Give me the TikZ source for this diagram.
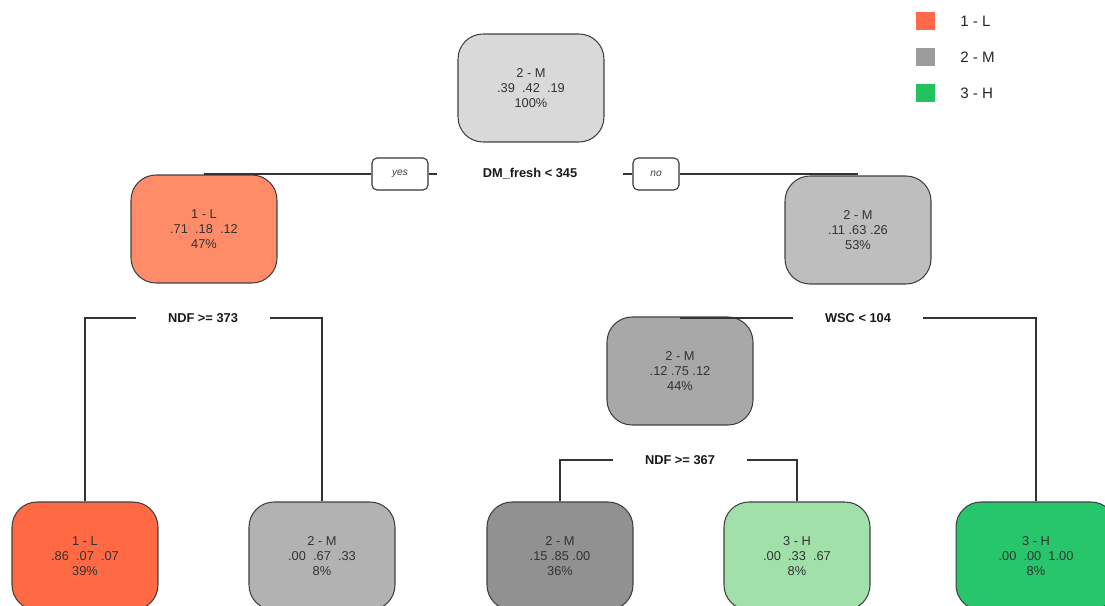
\documentclass[tikz,border=0pt]{standalone}
\usepackage{fontspec}
\setmainfont{Liberation Sans}
\begin{document}
\begin{tikzpicture}[x=0.02cm,y=-0.02cm,
  tnode/.style={draw=black!75, line width=0.6pt, rounded corners=0.5cm,
    minimum width=2.92cm, minimum height=2.16cm, align=center, inner sep=0pt,
    text=black!80, font=\fontsize{7.3}{8.6}\selectfont},
  splitlab/.style={font=\bfseries\fontsize{7.3}{8.6}\selectfont, text=black!90, inner sep=0pt, minimum height=0.4cm},
  yn/.style={draw=black!80, line width=0.6pt, rounded corners=0.1cm, minimum height=0.64cm,
    font=\itshape\fontsize{5.8}{7}\selectfont, text=black!75, inner sep=0pt},
  conn/.style={draw=black!80, line width=0.6pt},
  legsq/.style={minimum size=0.38cm, inner sep=0pt},
  legtxt/.style={font=\fontsize{8.6}{10}\selectfont, text=black!85, anchor=west, inner sep=0pt}
]
\useasboundingbox (0,0) rectangle (1105,605);
\clip (0,0) rectangle (1105,605);
\definecolor{cRoot}{HTML}{D9D9D9}
\definecolor{cL}{HTML}{FF8C69}
\definecolor{cR}{HTML}{BEBEBE}
\definecolor{cM12}{HTML}{A8A8A8}
\definecolor{cLeafA}{HTML}{FF6A45}
\definecolor{cLeafB}{HTML}{B2B2B2}
\definecolor{cLeafC}{HTML}{919191}
\definecolor{cLeafD}{HTML}{A1E0A9}
\definecolor{cLeafE}{HTML}{27C56C}
\definecolor{legL}{HTML}{FF6849}
\definecolor{legM}{HTML}{9C9C9C}
\definecolor{legH}{HTML}{22C25E}

% nodes
\node[tnode, fill=cRoot] (root) at (531,88) {2 - M\\.39\ \ .42\ \ .19\\100\%};
\node[tnode, fill=cL] (nL) at (204,229) {1 - L\\.71\ \ .18\ \ .12\\47\%};
\node[tnode, fill=cR] (nR) at (858,230) {2 - M\\.11\ .63\ .26\\53\%};
\node[tnode, fill=cM12] (nM) at (680,371) {2 - M\\.12\ .75\ .12\\44\%};
\node[tnode, fill=cLeafA] (lA) at (85,556) {1 - L\\.86\ \ .07\ \ .07\\39\%};
\node[tnode, fill=cLeafB] (lB) at (322,556) {2 - M\\.00\ \ .67\ \ .33\\8\%};
\node[tnode, fill=cLeafC] (lC) at (560,556) {2 - M\\.15\ .85\ .00\\36\%};
\node[tnode, fill=cLeafD] (lD) at (797,556) {3 - H\\.00\ \ .33\ \ .67\\8\%};
\node[tnode, fill=cLeafE, minimum width=3.2cm] (lE) at (1036,556) {3 - H\\.00\ \ .00\ \ 1.00\\8\%};

% split labels
\node[splitlab, minimum width=3.7cm] (s1) at (530,174) {DM\_fresh < 345};
\node[splitlab, minimum width=2.66cm] (s2) at (203,318) {NDF >= 373};
\node[splitlab, minimum width=2.6cm] (s3) at (858,318) {WSC < 104};
\node[splitlab, minimum width=2.68cm] (s4) at (680,460) {NDF >= 367};

% yes / no
\node[yn, minimum width=1.12cm] (yes) at (400,174) {yes};
\node[yn, minimum width=0.92cm] (no) at (656,174) {no};

% connectors
\draw[conn] (s1.west) -- (yes.east);
\draw[conn] (yes.west) -- (yes.west -| nL.north);
\draw[conn] (s1.east) -- (no.west);
\draw[conn] (no.east) -- (no.east -| nR.north);
\draw[conn] (s2.west) -| (lA.north);
\draw[conn] (s2.east) -| (lB.north);
\draw[conn] (s3.west) -- (s3.west -| nM.north);
\draw[conn] (s3.east) -| (lE.north);
\draw[conn] (s4.west) -| (lC.north);
\draw[conn] (s4.east) -| (lD.north);

% legend
\node[legsq, fill=legL] (qL) at (925.5,21) {};
\node[legsq, fill=legM] (qM) at (925.5,57) {};
\node[legsq, fill=legH] (qH) at (925.5,93) {};
\node[legtxt] (tL) at (960,21) {1 - L};
\node[legtxt] (tM) at (960,57) {2 - M};
\node[legtxt] (tH) at (960,93) {3 - H};
\end{tikzpicture}
\end{document}
